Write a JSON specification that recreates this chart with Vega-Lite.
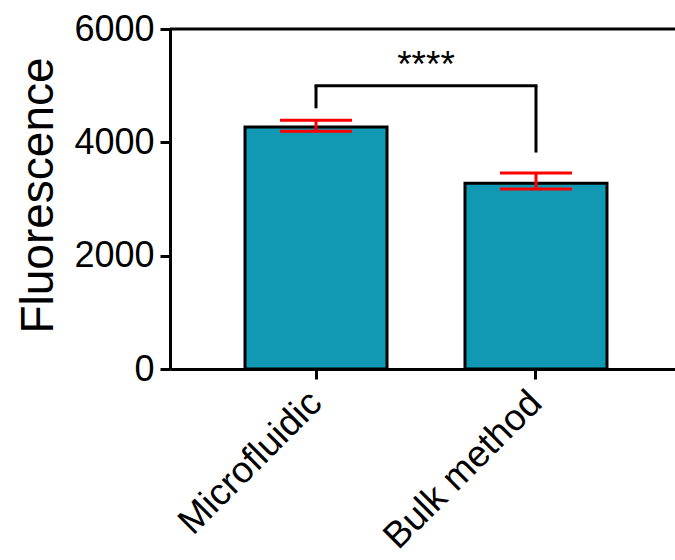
{
  "$schema": "https://vega.github.io/schema/vega-lite/v6.json",
  "autosize": {"type": "none"},
  "width": 505,
  "height": 340,
  "padding": {"left": 170, "top": 29, "right": 0, "bottom": 191},
  "background": "white",
  "config": {
    "view": {"stroke": null},
    "font": "Liberation Sans",
    "axis": {"grid": false, "domainColor": "black", "domainWidth": 3, "tickColor": "black", "tickWidth": 3, "tickSize": 10, "labelColor": "black", "titleColor": "black", "labelFont": "Liberation Sans", "titleFont": "Liberation Sans", "labelFontWeight": "normal", "titleFontWeight": "normal"}
  },
  "datasets": {
    "bars": [
      {"group": "Microfluidic", "mean": 4270, "lo": 4195, "hi": 4390},
      {"group": "Bulk method", "mean": 3280, "lo": 3175, "hi": 3460}
    ],
    "bracket": [
      {"g1": "Microfluidic", "g2": "Bulk method", "ytop": 5000, "y1": 4600, "y2": 3820, "label": "****", "ylab": 5340}
    ],
    "frame": [{"top": 6000}]
  },
  "layer": [
    {
      "data": {"name": "bars"},
      "mark": {"type": "bar", "color": "#1199B3", "stroke": "black", "strokeWidth": 3},
      "encoding": {
        "x": {
          "field": "group", "type": "nominal",
          "scale": {"domain": ["Microfluidic", "Bulk method"], "range": [0, 512], "paddingInner": 0.3545, "paddingOuter": 0.341},
          "axis": {"title": null, "labelAngle": -45, "labelAlign": "right", "labelBaseline": "middle", "labelFontSize": 37, "labelPadding": 18, "labelLimit": 400}
        },
        "y": {"field": "mean", "type": "quantitative", "scale": {"domain": [0, 6000], "nice": false, "zero": true},
          "axis": {"title": "Fluorescence", "format": "d", "titleFontSize": 46, "labelFontSize": 36, "labelPadding": 6, "values": [0, 2000, 4000, 6000], "titleAngle": -90, "titleAlign": "center", "titleBaseline": "middle", "titleX": -132, "titleY": 166}}
      }
    },
    {
      "data": {"name": "frame"},
      "mark": {"type": "rule", "color": "black", "strokeWidth": 3},
      "encoding": {"y": {"field": "top", "type": "quantitative"}}
    },
    {
      "data": {"name": "bars"},
      "mark": {"type": "rule", "color": "#FF0000", "strokeWidth": 3},
      "encoding": {"x": {"field": "group", "type": "nominal"}, "y": {"field": "lo", "type": "quantitative"}, "y2": {"field": "hi"}}
    },
    {
      "data": {"name": "bars"},
      "mark": {"type": "tick", "color": "#FF0000", "thickness": 3, "size": 72, "orient": "horizontal", "opacity": 1},
      "encoding": {"x": {"field": "group", "type": "nominal"}, "y": {"field": "lo", "type": "quantitative"}}
    },
    {
      "data": {"name": "bars"},
      "mark": {"type": "tick", "color": "#FF0000", "thickness": 3, "size": 72, "orient": "horizontal", "opacity": 1},
      "encoding": {"x": {"field": "group", "type": "nominal"}, "y": {"field": "hi", "type": "quantitative"}}
    },
    {
      "data": {"name": "bracket"},
      "mark": {"type": "rule", "color": "black", "strokeWidth": 3, "strokeCap": "square"},
      "encoding": {"x": {"field": "g1", "type": "nominal"}, "x2": {"field": "g2"}, "y": {"field": "ytop", "type": "quantitative"}}
    },
    {
      "data": {"name": "bracket"},
      "mark": {"type": "rule", "color": "black", "strokeWidth": 3},
      "encoding": {"x": {"field": "g1", "type": "nominal"}, "y": {"field": "ytop", "type": "quantitative"}, "y2": {"field": "y1"}}
    },
    {
      "data": {"name": "bracket"},
      "mark": {"type": "rule", "color": "black", "strokeWidth": 3},
      "encoding": {"x": {"field": "g2", "type": "nominal"}, "y": {"field": "ytop", "type": "quantitative"}, "y2": {"field": "y2"}}
    },
    {
      "data": {"name": "bracket"},
      "mark": {"type": "text", "fontSize": 37, "font": "Liberation Sans", "color": "black", "baseline": "middle", "align": "center", "dx": 110},
      "encoding": {"x": {"field": "g1", "type": "nominal"}, "y": {"field": "ylab", "type": "quantitative"}, "text": {"field": "label"}}
    }
  ],
  "resolve": {"scale": {"y": "shared"}}
}
